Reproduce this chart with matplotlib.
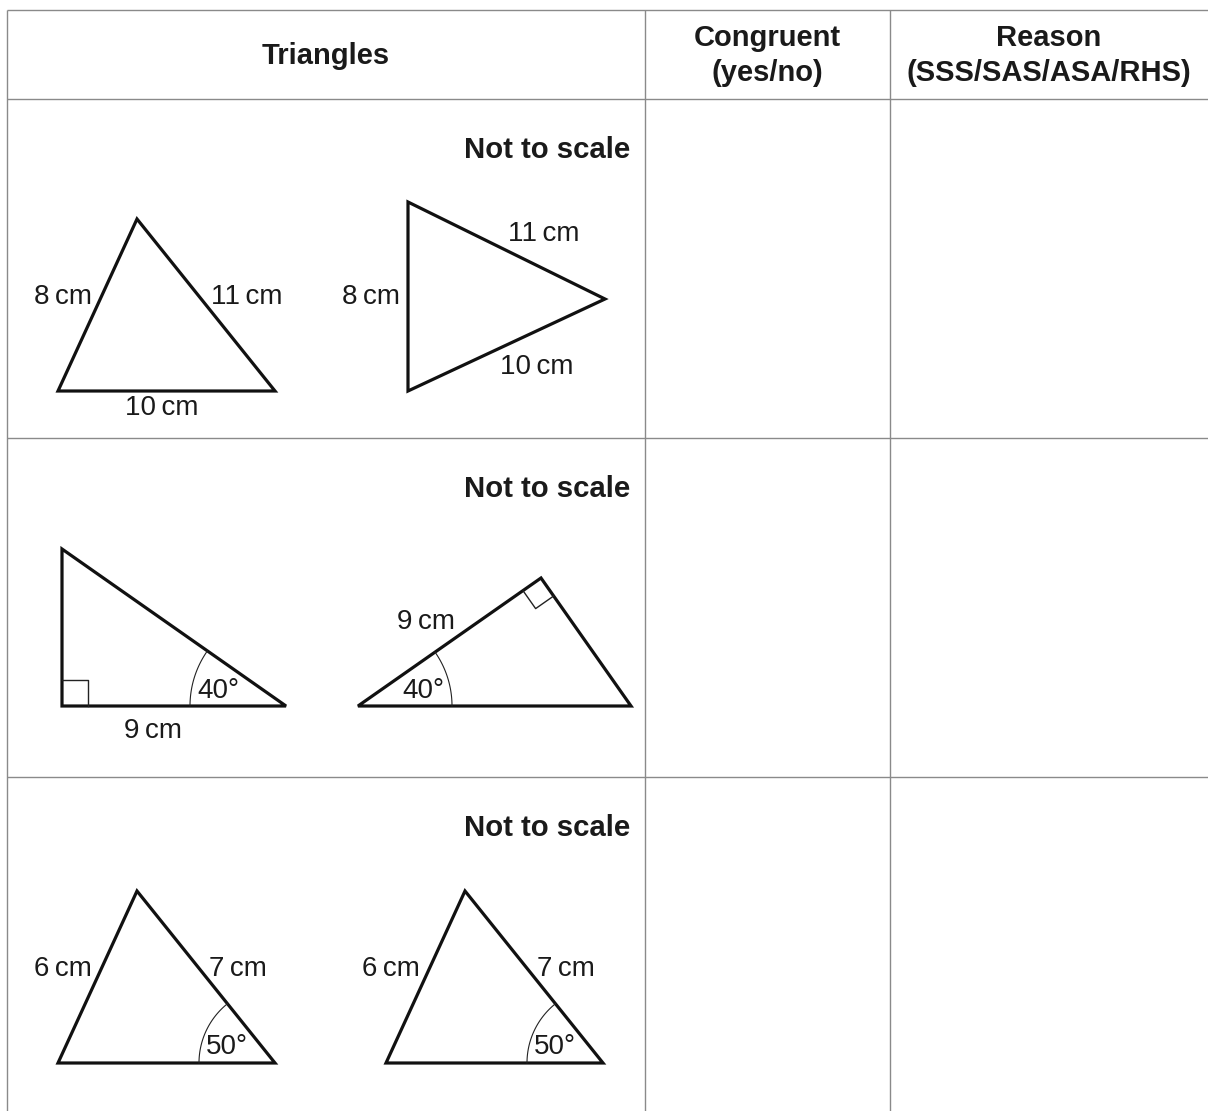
import numpy as np
import matplotlib
matplotlib.use('Agg')
import matplotlib.pyplot as plt
from matplotlib.patches import Polygon

plt.rcParams['font.family'] = ['Liberation Sans', 'DejaVu Sans']

# table layout (pixels)
col_edges = [7, 645, 890, 1208]
row_edges = [10, 99, 438, 777, 1111]
headers = ["Triangles", "Congruent\n(yes/no)", "Reason\n(SSS/SAS/ASA/RHS)"]
note = "Not to scale"

# triangles: vertices per row, two triangles each
tri_vertices = [
    [[(137, 219), (58, 391), (275, 391)], [(408, 202), (408, 391), (605, 299)]],
    [[(62, 549), (62, 706), (286, 706)], [(358, 706), (541, 578), (631, 706)]],
    [[(137, 891), (58, 1063), (275, 1063)], [(465, 891), (386, 1063), (603, 1063)]],
]
# side labels: (text, x, y, ha)
side_labels = [
    [("8\u2009cm", 92, 297, 'right'), ("11\u2009cm", 211, 297, 'left'), ("10\u2009cm", 162, 408, 'center'),
     ("8\u2009cm", 400, 297, 'right'), ("11\u2009cm", 508, 234, 'left'), ("10\u2009cm", 500, 367, 'left')],
    [("9\u2009cm", 153, 731, 'center'), ("9\u2009cm", 397, 622, 'left')],
    [("6\u2009cm", 92, 969, 'right'), ("7\u2009cm", 209, 969, 'left'),
     ("6\u2009cm", 420, 969, 'right'), ("7\u2009cm", 537, 969, 'left')],
]
# angle marks: (row, tri, vertex index, radius, label, label x, label y)
angle_marks = [
    (1, 0, 2, 96, "40°", 218, 691),
    (1, 1, 0, 94, "40°", 423, 691),
    (2, 0, 2, 76, "50°", 227, 1047),
    (2, 1, 2, 76, "50°", 555, 1047),
]
# right-angle marks: (row, tri, vertex index, size)
right_marks = [(1, 0, 1, 26), (1, 1, 1, 22)]

fig = plt.figure(figsize=(12.08, 11.11), dpi=100)
ax = fig.add_axes([0, 0, 1, 1])
ax.set_xlim(0, 1208)
ax.set_ylim(1111, 0)
ax.axis('off')

grid_kw = dict(color='#8a8a8a', lw=1.0, solid_capstyle='butt')
for y in row_edges[:-1]:
    ax.plot([col_edges[0], col_edges[-1]], [y, y], **grid_kw)
for x in col_edges[:-1]:
    ax.plot([x, x], [row_edges[0], row_edges[-1]], **grid_kw)

for i, h in enumerate(headers):
    cx = (col_edges[i] + col_edges[i + 1]) / 2
    ax.text(cx, (row_edges[0] + row_edges[1]) / 2 + 1, h, ha='center', va='center',
            fontsize=21, fontweight='bold', linespacing=1.35, color='#1a1a1a')

for r in range(3):
    top = row_edges[r + 1]
    ax.text(630, top + 51, note, ha='right', va='center', fontsize=21.2,
            fontweight='bold', color='#1a1a1a')
    for tri in tri_vertices[r]:
        ax.add_patch(Polygon(tri, closed=True, fill=False, edgecolor='#111111',
                             lw=2.3, joinstyle='miter'))
    for txt, x, y, ha in side_labels[r]:
        ax.text(x, y, txt, ha=ha, va='center', fontsize=20, color='#1a1a1a')

for r, t, v, rad, lab, lx, ly in angle_marks:
    tri = np.array(tri_vertices[r][t], dtype=float)
    p = tri[v]
    a = tri[(v + 1) % 3] - p
    b = tri[(v + 2) % 3] - p
    a1 = np.arctan2(a[1], a[0])
    a2 = np.arctan2(b[1], b[0])
    d = (a2 - a1 + np.pi) % (2 * np.pi) - np.pi
    th = a1 + np.linspace(0, d, 60)
    ax.plot(p[0] + rad * np.cos(th), p[1] + rad * np.sin(th), color='#222222', lw=0.8)
    ax.text(lx, ly, lab, ha='center', va='center', fontsize=20, color='#1a1a1a')

for r, t, v, s in right_marks:
    tri = np.array(tri_vertices[r][t], dtype=float)
    p = tri[v]
    a = tri[(v + 1) % 3] - p
    b = tri[(v + 2) % 3] - p
    a = a / np.linalg.norm(a) * s
    b = b / np.linalg.norm(b) * s
    sq = np.array([p + a, p + a + b, p + b])
    ax.plot(sq[:, 0], sq[:, 1], color='#222222', lw=1.0)

fig.savefig('out.png', dpi=100)
